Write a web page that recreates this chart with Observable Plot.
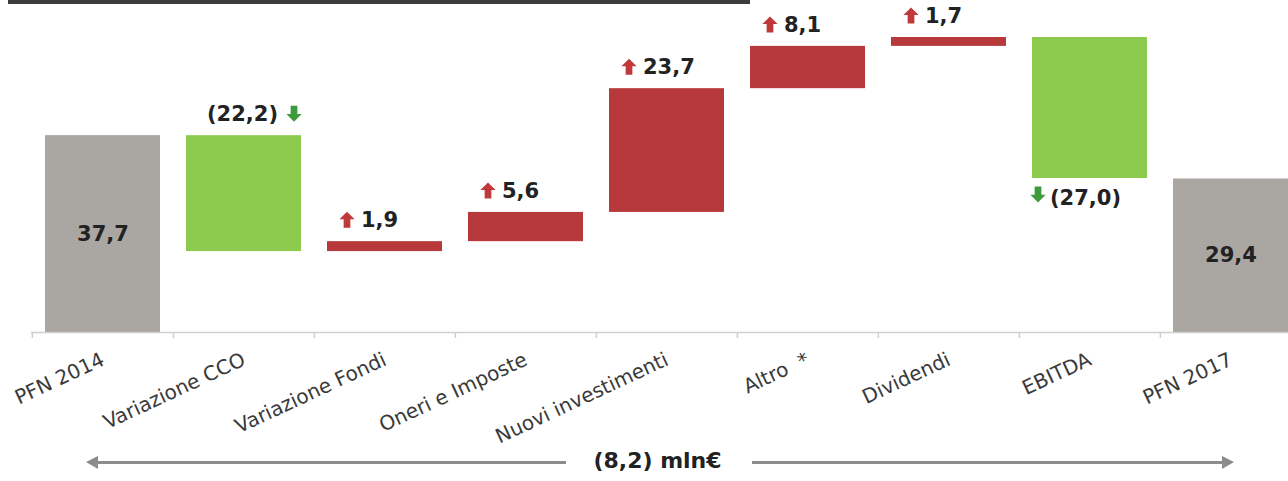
<!DOCTYPE html>
<html>
<head>
<meta charset="utf-8">
<script src="https://cdn.jsdelivr.net/npm/d3@7"></script>
<script src="https://cdn.jsdelivr.net/npm/@observablehq/plot@0.6"></script>
<style>
  body { margin: 0; background: #fff; }
  #wrap { position: relative; width: 1288px; height: 481px; overflow: hidden; font-family: "DejaVu Sans", sans-serif; }
  #topline { position: absolute; left: 8px; top: 0; width: 742px; height: 4px; background: #3c3c3c; }
  #chart { position: absolute; left: 0; top: 0; }
  .ln { position: absolute; top: 461px; height: 3px; background: #8c8c8c; }
  .head { position: absolute; top: 456px; width: 0; height: 0; border-top: 6px solid transparent; border-bottom: 7px solid transparent; }
  #total { position: absolute; top: 448px; left: 575px; width: 165px; text-align: center; font: bold 22px "DejaVu Sans", sans-serif; color: #222; }
</style>
</head>
<body>
<div id="wrap">
  <div id="chart"></div>
  <div id="topline"></div>
  <div class="head" style="left:86px;border-right:12px solid #8c8c8c;"></div>
  <div class="ln" style="left:96px;width:470px;"></div>
  <div id="total">(8,2) mln€</div>
  <div class="ln" style="left:752px;width:472px;"></div>
  <div class="head" style="left:1222px;border-left:12px solid #8c8c8c;"></div>
</div>
<script>
// ---- data ----
const categories = ["PFN 2014", "Variazione CCO", "Variazione Fondi", "Oneri e Imposte",
                    "Nuovi investimenti", "Altro  *", "Dividendi", "EBITDA", "PFN 2017"];
const values = [37.7, -22.2, 1.9, 5.6, 23.7, 8.1, 1.7, -27.0, 29.4];
const isTotal = [true, false, false, false, false, false, false, false, true];
const valueLabels = ["37,7", "(22,2)", "1,9", "5,6", "23,7", "8,1", "1,7", "(27,0)", "29,4"];
const labelBelow = ["EBITDA"]; // decrease labels placed under the bar

// ---- waterfall table ----
let running = 0;
const rows = categories.map((name, i) => {
  let y1, y2;
  if (isTotal[i]) { y1 = 0; y2 = values[i]; running = values[i]; }
  else { y1 = running; y2 = running + values[i]; running = y2; }
  const kind = isTotal[i] ? "total" : (values[i] >= 0 ? "up" : "down");
  return { name, value: values[i], label: valueLabels[i], y1, y2, kind,
           top: Math.max(y1, y2), bottom: Math.min(y1, y2), mid: (y1 + y2) / 2 };
});
const totals = rows.filter(d => d.kind === "total");
const ups = rows.filter(d => d.kind === "up");
const downsAbove = rows.filter(d => d.kind === "down" && !labelBelow.includes(d.name));
const downsBelow = rows.filter(d => d.kind === "down" && labelBelow.includes(d.name));

const yMax = d3.max(rows, d => d.top);
const yBase = 332, yTop = 37;
const pxPerUnit = (yBase - yTop) / yMax;
const tickDown = -6 / pxPerUnit;

const xRange = [31.5, 1302];
const step = (xRange[1] - xRange[0]) / (categories.length - 0.185 + 0.18);

const upArrow = { draw(ctx, size) {
  const r = Math.sqrt(size / Math.PI);
  ctx.moveTo(0, -r); ctx.lineTo(r * 0.95, -r * 0.05); ctx.lineTo(r * 0.42, -r * 0.05);
  ctx.lineTo(r * 0.42, r); ctx.lineTo(-r * 0.42, r); ctx.lineTo(-r * 0.42, -r * 0.05);
  ctx.lineTo(-r * 0.95, -r * 0.05); ctx.closePath();
}};
const downArrow = { draw(ctx, size) {
  const r = Math.sqrt(size / Math.PI);
  ctx.moveTo(0, r); ctx.lineTo(r * 0.95, r * 0.05); ctx.lineTo(r * 0.42, r * 0.05);
  ctx.lineTo(r * 0.42, -r); ctx.lineTo(-r * 0.42, -r); ctx.lineTo(-r * 0.42, r * 0.05);
  ctx.lineTo(-r * 0.95, r * 0.05); ctx.closePath();
}};

const RED = "#b7393b", GREEN = "#8dcb4e", GREY = "#aaa6a1";
const RED_ARROW = "#c0393a", GREEN_ARROW = "#3f9a3c";
const valueFont = { fontSize: 21, fontWeight: "bold", fill: "#222", fontFamily: "DejaVu Sans" };

const chart = Plot.plot({
  width: 1288,
  height: 481,
  marginLeft: 31,
  marginRight: 0,
  marginTop: 0,
  marginBottom: 149,
  x: { domain: categories, range: xRange, paddingInner: 0.185, paddingOuter: 0.09, axis: null },
  y: { domain: [0, yMax], range: [yBase, yTop], axis: null },
  style: { fontFamily: "DejaVu Sans", background: "transparent" },
  marks: [
    Plot.barY(totals, { x: "name", y1: "y1", y2: "y2", fill: GREY }),
    Plot.barY(ups, { x: "name", y1: "y1", y2: "y2", fill: RED }),
    Plot.barY(rows.filter(d => d.kind === "down"), { x: "name", y1: "y1", y2: "y2", fill: GREEN }),
    Plot.ruleY([0], { stroke: "#cfcfcf", strokeWidth: 1.5 }),
    Plot.ruleX(categories, { x: d => d, y1: 0, y2: tickDown, dx: -step / 2, stroke: "#cfcfcf", strokeWidth: 1.5 }),
    Plot.axisX({ tickRotate: -25, tickSize: 0, tickPadding: 26, fontSize: 20, fill: "#3a3a3a", fontFamily: "DejaVu Sans", label: null }),
    // totals: value inside bar
    Plot.text(totals, { x: "name", y: "mid", text: "label", ...valueFont }),
    // increases: arrow + value above bar
    Plot.dot(ups, { x: "name", y: "top", dy: -22, dx: -38, r: 8, symbol: upArrow, fill: RED_ARROW, stroke: null }),
    Plot.text(ups, { x: "name", y: "top", dy: -21, dx: -24, textAnchor: "start", text: "label", ...valueFont }),
    // decrease with label above
    Plot.text(downsAbove, { x: "name", y: "top", dy: -21, dx: 34, textAnchor: "end", text: "label", ...valueFont }),
    Plot.dot(downsAbove, { x: "name", y: "top", dy: -22, dx: 50, r: 8, symbol: downArrow, fill: GREEN_ARROW, stroke: null }),
    // decrease with label below
    Plot.dot(downsBelow, { x: "name", y: "bottom", dy: 16, dx: -52, r: 8, symbol: downArrow, fill: GREEN_ARROW, stroke: null }),
    Plot.text(downsBelow, { x: "name", y: "bottom", dy: 20, dx: -40, textAnchor: "start", text: "label", ...valueFont })
  ]
});
document.getElementById("chart").appendChild(chart);
</script>
</body>
</html>
